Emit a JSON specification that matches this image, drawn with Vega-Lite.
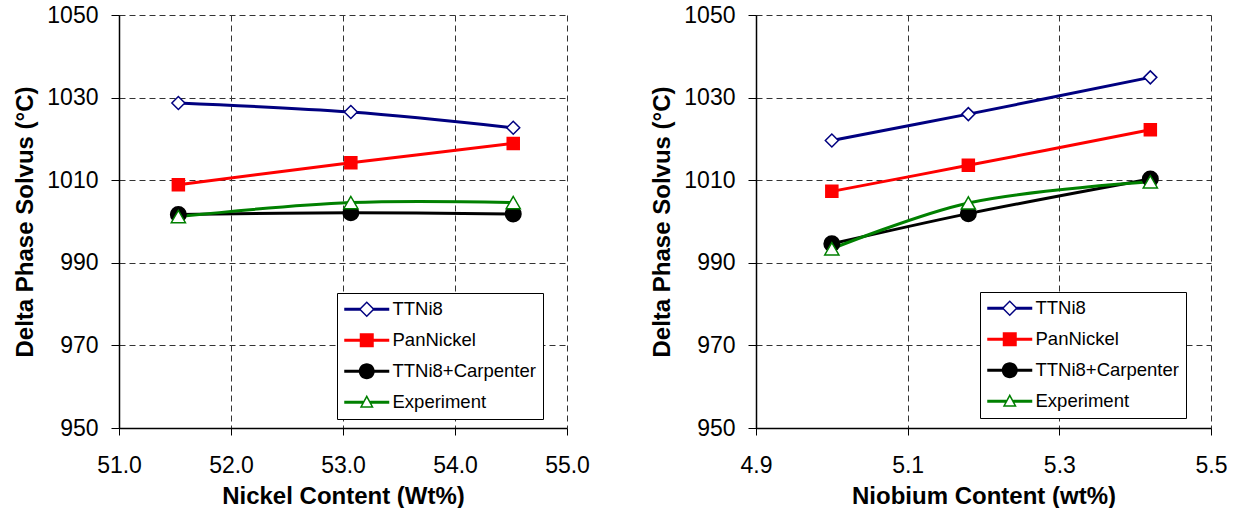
{
  "$schema": "https://vega.github.io/schema/vega-lite/v6.json",
  "padding": {"left": 13, "top": 4, "right": 0, "bottom": 0},
  "config": {
    "font": "Liberation Sans",
    "view": {"stroke": null},
    "axis": {
      "labelFontSize": 23, "titleFontSize": 24, "titleFontWeight": "bold",
      "labelColor": "#000", "titleColor": "#000",
      "domainColor": "#000", "domainWidth": 1.5,
      "tickColor": "#000", "tickWidth": 1,
      "gridColor": "#333", "gridDash": [6, 4], "gridWidth": 1, "gridOpacity": 1,
      "labelFlush": false, "labelOverlap": false
    },
    "axisX": {"tickSize": 7, "labelPadding": 19, "titlePadding": 7},
    "axisY": {"tickSize": 8, "labelPadding": 13, "titlePadding": 9},
    "legend": {
      "title": null, "orient": "none", "strokeColor": "#000", "fillColor": "#fff", "padding": 7,
      "labelFontSize": 18.5, "labelColor": "#000", "labelOffset": 30, "rowPadding": 12,
      "symbolSize": 4, "symbolStrokeWidth": 0, "labelLimit": 400
    }
  },
  "datasets": {
    "nickel": [
      {"series": "TTNi8", "content": 51.53, "solvus": 1028.7},
      {"series": "TTNi8", "content": 53.07, "solvus": 1026.5},
      {"series": "TTNi8", "content": 54.52, "solvus": 1022.7},
      {"series": "PanNickel", "content": 51.53, "solvus": 1008.9},
      {"series": "PanNickel", "content": 53.07, "solvus": 1014.2},
      {"series": "PanNickel", "content": 54.52, "solvus": 1018.9},
      {"series": "TTNi8+Carpenter", "content": 51.53, "solvus": 1001.7},
      {"series": "TTNi8+Carpenter", "content": 53.07, "solvus": 1002.1},
      {"series": "TTNi8+Carpenter", "content": 54.52, "solvus": 1001.8},
      {"series": "Experiment", "content": 51.53, "solvus": 1001.2},
      {"series": "Experiment", "content": 53.07, "solvus": 1004.6},
      {"series": "Experiment", "content": 54.52, "solvus": 1004.6}
    ],
    "niobium": [
      {"series": "TTNi8", "content": 5.0, "solvus": 1019.6},
      {"series": "TTNi8", "content": 5.18, "solvus": 1026.0},
      {"series": "TTNi8", "content": 5.42, "solvus": 1034.9},
      {"series": "PanNickel", "content": 5.0, "solvus": 1007.3},
      {"series": "PanNickel", "content": 5.18, "solvus": 1013.6},
      {"series": "PanNickel", "content": 5.42, "solvus": 1022.2},
      {"series": "TTNi8+Carpenter", "content": 5.0, "solvus": 994.6},
      {"series": "TTNi8+Carpenter", "content": 5.18, "solvus": 1001.9},
      {"series": "TTNi8+Carpenter", "content": 5.42, "solvus": 1010.3},
      {"series": "Experiment", "content": 5.0, "solvus": 993.4},
      {"series": "Experiment", "content": 5.18, "solvus": 1004.5},
      {"series": "Experiment", "content": 5.42, "solvus": 1009.6}
    ]
  },
  "spacing": 60,
  "hconcat": [
    {
      "width": 448, "height": 413,
      "data": {"name": "nickel"},
      "encoding": {
        "x": {"field": "content", "type": "quantitative", "scale": {"domain": [51, 55], "nice": false, "zero": false},
              "axis": {"values": [51, 52, 53, 54, 55], "format": ".1f", "title": "Nickel Content (Wt%)"}},
        "y": {"field": "solvus", "type": "quantitative", "scale": {"domain": [950, 1050], "nice": false, "zero": false},
              "axis": {"values": [950, 970, 990, 1010, 1030, 1050], "format": "d", "title": "Delta Phase Solvus (°C)"}}
      },
      "layer": [
        {
          "mark": {"type": "line", "interpolate": "catmull-rom", "strokeWidth": 3},
          "encoding": {
            "color": {"field": "series", "type": "nominal",
                      "scale": {"domain": ["TTNi8", "PanNickel", "TTNi8+Carpenter", "Experiment"], "range": ["#000080", "#ff0000", "#000000", "#008000"]},
                      "legend": {"legendX": 218, "legendY": 278,
                                 "encode": {"symbols": {"update": {
                                   "shape": {"signal": "datum.value === 'TTNi8' ? 'M-9,-1.5H7.5V1.5H-9Z M19.5,-1.5H36V1.5H19.5Z M5.5,0L13.5,-8L21.5,0L13.5,8Z M7.6,0L13.5,5.9L19.4,0L13.5,-5.9Z' : datum.value === 'PanNickel' ? 'M-9,-1.5H36V1.5H-9Z M6.5,-7H20.5V7H6.5Z' : datum.value === 'Experiment' ? 'M-9,-1.5H10V1.5H-9Z M17,-1.5H36V1.5H17Z M13.5,-7.5L20.5,5.5L6.5,5.5Z M13.5,-4.33L9,4L18,4Z' : 'M-9,-1.5H36V1.5H-9Z M5.5,0A8,8 0 1,1 21.5,0A8,8 0 1,1 5.5,0Z'"},
                                   "fill": {"signal": "datum.value === 'TTNi8' ? '#000080' : datum.value === 'PanNickel' ? '#ff0000' : datum.value === 'Experiment' ? '#008000' : '#000000'"},
                                   "stroke": {"value": "transparent"},
                                   "strokeWidth": {"value": 0},
                                   "opacity": {"value": 1}
                                 }}}}}
          }
        },
        {"transform": [{"filter": "datum.series === 'TTNi8'"}],
         "mark": {"type": "point", "shape": "diamond", "size": 169, "filled": false, "fill": "#ffffff", "stroke": "#000080", "strokeWidth": 1.5, "opacity": 1}},
        {"transform": [{"filter": "datum.series === 'PanNickel'"}],
         "mark": {"type": "point", "shape": "square", "size": 144, "filled": true, "fill": "#ff0000", "stroke": "#ff0000", "strokeWidth": 1.5, "opacity": 1}},
        {"transform": [{"filter": "datum.series === 'TTNi8+Carpenter'"}],
         "mark": {"type": "point", "shape": "circle", "size": 240, "filled": true, "fill": "#000000", "stroke": "#000000", "strokeWidth": 1.5, "opacity": 1}},
        {"transform": [{"filter": "datum.series === 'Experiment'"}],
         "mark": {"type": "point", "shape": "triangle-up", "size": 200, "filled": false, "fill": "#ffffff", "stroke": "#008000", "strokeWidth": 1.5, "opacity": 1}}
      ]
    },
    {
      "width": 455, "height": 413,
      "data": {"name": "niobium"},
      "encoding": {
        "x": {"field": "content", "type": "quantitative", "scale": {"domain": [4.9, 5.5], "nice": false, "zero": false},
              "axis": {"values": [4.9, 5.1, 5.3, 5.5], "format": ".1f", "title": "Niobium Content (wt%)"}},
        "y": {"field": "solvus", "type": "quantitative", "scale": {"domain": [950, 1050], "nice": false, "zero": false},
              "axis": {"values": [950, 970, 990, 1010, 1030, 1050], "format": "d", "title": "Delta Phase Solvus (°C)"}}
      },
      "layer": [
        {
          "mark": {"type": "line", "interpolate": "catmull-rom", "strokeWidth": 3},
          "encoding": {
            "color": {"field": "series", "type": "nominal",
                      "scale": {"domain": ["TTNi8", "PanNickel", "TTNi8+Carpenter", "Experiment"], "range": ["#000080", "#ff0000", "#000000", "#008000"]},
                      "legend": {"legendX": 224, "legendY": 277,
                                 "encode": {"symbols": {"update": {
                                   "shape": {"signal": "datum.value === 'TTNi8' ? 'M-9,-1.5H7.5V1.5H-9Z M19.5,-1.5H36V1.5H19.5Z M5.5,0L13.5,-8L21.5,0L13.5,8Z M7.6,0L13.5,5.9L19.4,0L13.5,-5.9Z' : datum.value === 'PanNickel' ? 'M-9,-1.5H36V1.5H-9Z M6.5,-7H20.5V7H6.5Z' : datum.value === 'Experiment' ? 'M-9,-1.5H10V1.5H-9Z M17,-1.5H36V1.5H17Z M13.5,-7.5L20.5,5.5L6.5,5.5Z M13.5,-4.33L9,4L18,4Z' : 'M-9,-1.5H36V1.5H-9Z M5.5,0A8,8 0 1,1 21.5,0A8,8 0 1,1 5.5,0Z'"},
                                   "fill": {"signal": "datum.value === 'TTNi8' ? '#000080' : datum.value === 'PanNickel' ? '#ff0000' : datum.value === 'Experiment' ? '#008000' : '#000000'"},
                                   "stroke": {"value": "transparent"},
                                   "strokeWidth": {"value": 0},
                                   "opacity": {"value": 1}
                                 }}}}}
          }
        },
        {"transform": [{"filter": "datum.series === 'TTNi8'"}],
         "mark": {"type": "point", "shape": "diamond", "size": 169, "filled": false, "fill": "#ffffff", "stroke": "#000080", "strokeWidth": 1.5, "opacity": 1}},
        {"transform": [{"filter": "datum.series === 'PanNickel'"}],
         "mark": {"type": "point", "shape": "square", "size": 144, "filled": true, "fill": "#ff0000", "stroke": "#ff0000", "strokeWidth": 1.5, "opacity": 1}},
        {"transform": [{"filter": "datum.series === 'TTNi8+Carpenter'"}],
         "mark": {"type": "point", "shape": "circle", "size": 240, "filled": true, "fill": "#000000", "stroke": "#000000", "strokeWidth": 1.5, "opacity": 1}},
        {"transform": [{"filter": "datum.series === 'Experiment'"}],
         "mark": {"type": "point", "shape": "triangle-up", "size": 200, "filled": false, "fill": "#ffffff", "stroke": "#008000", "strokeWidth": 1.5, "opacity": 1}}
      ]
    }
  ],
  "resolve": {
    "scale": {"x": "independent", "y": "independent", "color": "independent"},
    "legend": {"color": "independent"}
  }
}
